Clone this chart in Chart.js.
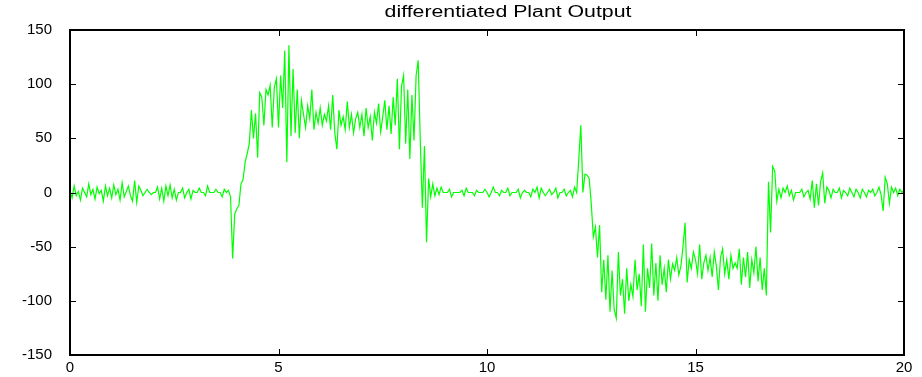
<!DOCTYPE html>
<html>
<head>
<meta charset="utf-8">
<script src="https://cdn.jsdelivr.net/npm/chart.js@4.4.0/dist/chart.umd.min.js"></script>
<style>
  html, body { margin: 0; padding: 0; background: #fff; }
  canvas { display: block; }
</style>
</head>
<body>
<canvas id="myChart" width="922" height="377"></canvas>
<script>
const chartTitle = "differentiated Plant Output";
const timeStep = 0.05; // sample spacing in seconds
const xTicks = [0, 5, 10, 15, 20];
const yTicks = [-150, -100, -50, 0, 50, 100, 150];

// samples, one row per second (20 samples each)
const sec0 = [2, -5, 6, -3, 1, -7, 4, 0, -4, 8, -2, 3, -6, 5, -1, 2, -8, 6, -3, 4];
const sec1 = [-5, 7, -2, 3, -7, 9, -4, 1, 6, -3, -8, 11, -9, 6, 2, -3, 0, 3, 0, -2];
const sec2 = [0, 0, 5, -6, 4, -8, 6, -3, 7, -5, 3, -7, 0, 0, 4, -5, 0, 3, -6, 2];
const sec3 = [0, 0, 4, 0, 0, -3, 6, 0, 0, 0, 3, 0, 0, -4, 3, 0, 2, -4, -61, -20];
const sec4 = [-15, -12, 8, 12, 28, 36, 45, 76, 50, 73, 32, 92, 88, 62, 95, 90, 99, 60, 97, 105];
const sec5 = [60, 108, 78, 131, 28, 136, 52, 114, 55, 95, 50, 85, 72, 60, 80, 68, 95, 58, 74, 64];
const sec6 = [78, 62, 72, 66, 80, 58, 90, 55, 40, 76, 62, 70, 58, 84, 60, 72, 55, 68, 74, 60];
const sec7 = [72, 52, 78, 60, 70, 48, 74, 64, 82, 56, 70, 85, 58, 80, 54, 88, 62, 105, 40, 98];
const sec8 = [108, 45, 95, 31, 90, 48, 108, 122, 48, -14, 43, -46, 13, -4, 8, -3, 4, -2, 5, 0];
const sec9 = [0, 0, 3, -4, 0, 0, 0, 0, 2, -3, 4, 0, 0, 0, -3, 2, 0, 0, 0, 3];
const sec10 = [0, -4, 0, 5, 0, 0, -3, 2, 0, 0, 4, -3, 0, 0, 0, 3, -5, 0, 2, 0];
const sec11 = [0, -4, 3, 0, 5, -5, 4, 0, -3, 0, 3, -2, 0, 4, -5, 0, 0, 3, -3, 0];
const sec12 = [2, -4, 5, 0, 30, 62, 0, 17, 16, 13, -10, -41, -32, -60, -30, -92, -62, -99, -58, -110];
const sec13 = [-72, -108, -116, -55, -95, -80, -112, -70, -100, -85, -96, -62, -90, -75, -105, -48, -110, -70, -88, -47];
const sec14 = [-95, -65, -100, -58, -85, -70, -92, -62, -80, -66, -72, -60, -76, -68, -50, -28, -83, -62, -70, -55];
const sec15 = [-62, -75, -48, -80, -65, -58, -72, -60, -78, -55, -68, -90, -60, -52, -75, -62, -80, -58, -70, -65];
const sec16 = [-70, -52, -85, -60, -78, -55, -88, -62, -74, -50, -82, -60, -90, -70, -95, 10, -37, 24, 20, -8];
const sec17 = [3, -5, 4, 0, 6, -3, 2, -7, 0, 0, 0, 3, -4, 0, 2, -6, 11, -14, 8, -12];
const sec18 = [10, 18, -10, 5, 2, -5, 3, 0, 0, 4, -5, 2, 0, -3, 4, 0, -4, 3, 0, -5];
const sec19 = [3, 0, -4, 2, 0, 3, -3, 0, 5, -2, -17, 14, 8, -10, 5, 0, 4, -3, 3, 0];
const lastSample = [2];

const outputValues = [].concat(
  sec0, sec1, sec2, sec3, sec4, sec5, sec6, sec7, sec8, sec9,
  sec10, sec11, sec12, sec13, sec14, sec15, sec16, sec17, sec18, sec19, lastSample
);
const points = outputValues.map((v, i) => ({ x: i * timeStep, y: v }));

const fontFamily = "'Liberation Sans', Arial, sans-serif";

// MATLAB-like box with inward ticks on all four sides, plus the title
const boxPlugin = {
  id: "box",
  afterDraw(chart) {
    const { ctx, chartArea: a, scales } = chart;
    const w = a.right - a.left;
    const h = a.bottom - a.top;
    ctx.save();
    ctx.fillStyle = "#000";
    ctx.fillRect(a.left - 1, a.top - 1, w + 2, 2);
    ctx.fillRect(a.left - 1, a.bottom - 1, w + 2, 2);
    ctx.fillRect(a.left - 1, a.top - 1, 2, h + 2);
    ctx.fillRect(a.right - 1, a.top - 1, 2, h + 2);
    xTicks.forEach((t) => {
      const px = Math.round(scales.x.getPixelForValue(t));
      ctx.fillRect(px, a.bottom - 6, 1, 6);
      ctx.fillRect(px, a.top, 1, 6);
    });
    yTicks.forEach((t) => {
      const py = Math.round(scales.y.getPixelForValue(t));
      ctx.fillRect(a.left, py, 6, 1);
      ctx.fillRect(a.right - 6, py, 6, 1);
    });
    // title, drawn a bit wide like the original
    ctx.font = "16px " + fontFamily;
    ctx.textAlign = "center";
    ctx.textBaseline = "middle";
    ctx.translate(508, 13);
    ctx.scale(1.33, 1);
    ctx.fillText(chartTitle, 0, 0);
    ctx.restore();
  },
};

const ctx = document.getElementById("myChart").getContext("2d");

const myChart = new Chart(ctx, {
  type: "line",
  data: {
    datasets: [
      {
        data: points,
        borderColor: "#00ff00",
        borderWidth: 1.2,
        pointRadius: 0,
        tension: 0,
        fill: false,
      },
    ],
  },
  options: {
    responsive: false,
    animation: false,
    layout: {
      padding: { left: 0, right: 18, top: 30, bottom: 0 },
    },
    plugins: {
      legend: { display: false },
      tooltip: { enabled: false },
      title: { display: false },
    },
    scales: {
      x: {
        type: "linear",
        min: 0,
        max: 20,
        grid: { display: false, drawTicks: false },
        border: { display: false },
        afterFit: (scale) => { scale.height = 22; },
        afterBuildTicks: (scale) => { scale.ticks = xTicks.map((v) => ({ value: v })); },
        ticks: {
          color: "#000",
          padding: 4,
          maxRotation: 0,
          font: { family: fontFamily, size: 15 },
        },
      },
      y: {
        min: -150,
        max: 150,
        grid: { display: false, drawTicks: false },
        border: { display: false },
        afterFit: (scale) => {
          scale.width = 70;
          // the label padding would otherwise eat into the bottom margin
          scale.paddingTop = 0;
          scale.paddingBottom = 0;
        },
        afterBuildTicks: (scale) => { scale.ticks = yTicks.map((v) => ({ value: v })); },
        ticks: {
          color: "#000",
          padding: 18,
          font: { family: fontFamily, size: 15 },
        },
      },
    },
  },
  plugins: [boxPlugin],
});
</script>
</body>
</html>
